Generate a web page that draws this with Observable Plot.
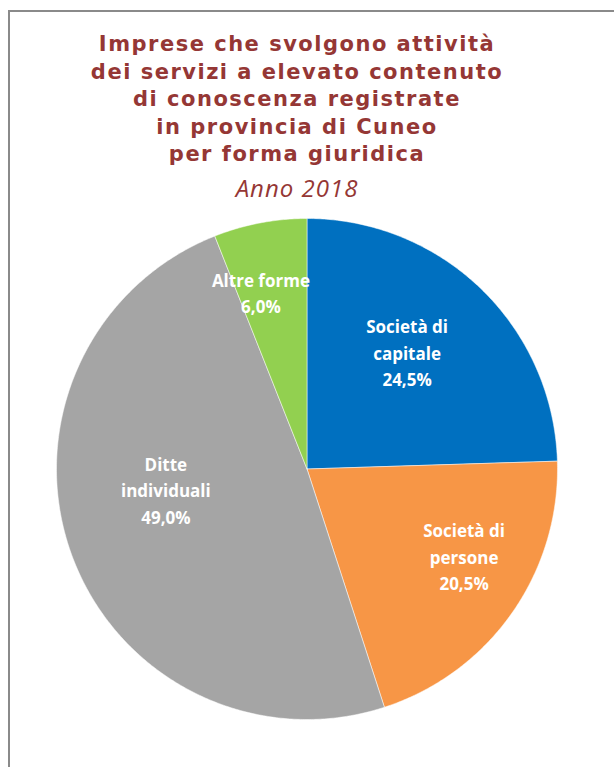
<!DOCTYPE html>
<html><head><meta charset="utf-8">
<script src="https://cdn.jsdelivr.net/npm/d3@7"></script>
<script src="https://cdn.jsdelivr.net/npm/@observablehq/plot@0.6"></script>
<style>
html,body{margin:0;padding:0;background:#fff;overflow:hidden;}
#wrap{position:relative;width:614px;height:767px;overflow:hidden;background:#fff;}
#frame{position:absolute;left:8px;top:10px;width:700px;height:800px;border:2px solid #8a8a8a;}
#title{position:absolute;left:0;top:31px;width:594px;text-align:center;font-family:"DejaVu Sans",Verdana,sans-serif;font-weight:bold;font-size:21px;letter-spacing:1.5px;line-height:27.6px;color:#953735;}
#sub{position:absolute;left:0;top:172px;width:594px;text-align:center;font-family:"Open Sans",sans-serif;font-style:italic;font-size:24px;letter-spacing:1px;line-height:32px;color:#953735;}
#chart{position:absolute;left:0;top:200px;}
</style></head>
<body>
<div id="wrap">
  <div id="frame"></div>
  <div id="title">Imprese che svolgono attività<br>dei servizi a elevato contenuto<br>di conoscenza registrate<br>in provincia di Cuneo<br>per forma giuridica</div>
  <div id="sub">Anno 2018</div>
  <div id="chart"></div>
</div>
<script>
// ---- data ----
const categories = ["Società di capitale", "Società di persone", "Ditte individuali", "Altre forme"];
const labelLines = [["Società di", "capitale"], ["Società di", "persone"], ["Ditte", "individuali"], ["Altre forme"]];
const shares = [24.5, 20.5, 49.0, 6.0];
const colors = ["#0070C0", "#F79646", "#A5A5A5", "#92D050"];

// ---- layout ----
const labelNudge = [[-8, -6], [30, -3], [5, -33], [-17, -25]]; // px nudges from slice centroid
const cx = 306.5, cy = 268.5, R = 250.5;

const pie = d3.pie().sort(null).value(d => d)(shares);
const fmt = v => v.toFixed(1).replace(".", ",") + "%";

// polygon vertices of each slice (unit circle, clockwise from top)
const slicePts = [];
pie.forEach((p, i) => {
  const n = Math.max(2, Math.ceil((p.endAngle - p.startAngle) / (Math.PI / 360)));
  slicePts.push({name: categories[i], x: 0, y: 0});
  for (let k = 0; k <= n; k++) {
    const a = p.startAngle + (p.endAngle - p.startAngle) * k / n;
    slicePts.push({name: categories[i], x: Math.sin(a), y: Math.cos(a)});
  }
  slicePts.push({name: categories[i], x: 0, y: 0});
});

const labels = pie.map((p, i) => {
  const a = (p.startAngle + p.endAngle) / 2;
  return {
    name: categories[i],
    x: 0.62 * Math.sin(a),
    y: 0.62 * Math.cos(a),
    text: [...labelLines[i], fmt(shares[i])].join("\n"),
    dx: labelNudge[i][0],
    dy: labelNudge[i][1]
  };
});

const chart = Plot.plot({
  width: 614,
  height: 567,
  margin: 0,
  x: {domain: [-1, 1], range: [cx - R, cx + R], axis: null},
  y: {domain: [-1, 1], range: [cy + R, cy - R], axis: null},
  color: {domain: categories, range: colors},
  style: {background: "transparent", overflow: "visible"},
  marks: [
    Plot.line(slicePts, {x: "x", y: "y", z: "name", fill: "name", stroke: "white", strokeWidth: 0.5, curve: "linear"}),
    ...labels.map(l => Plot.text([l], {
      x: "x", y: "y", text: "text", dx: l.dx, dy: l.dy,
      fill: "white", fontSize: 17, fontWeight: "bold", fontFamily: "'Open Sans', sans-serif", lineHeight: 1.56
    }))
  ]
});
document.getElementById("chart").append(chart);
</script>
</body></html>
